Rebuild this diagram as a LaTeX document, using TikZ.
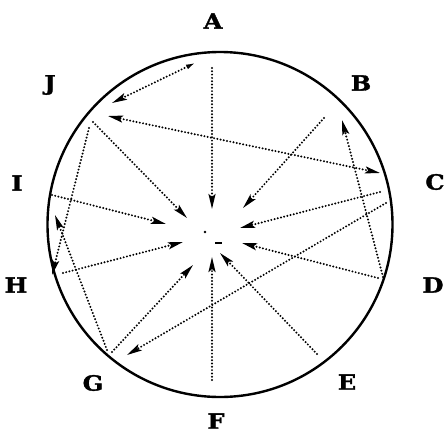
\documentclass[tikz,border=0pt]{standalone}
\usepackage{fontspec}
\setmainfont{DejaVu Serif}
\newfontfamily\lblfont[FakeStretch=1.15,FakeBold=1.5]{DejaVu Serif}
\usetikzlibrary{arrows.meta}
\tikzset{
  tipst/.tip={Stealth[length=15pt,width=7pt,inset=3pt]},
  lbl/.style={font=\lblfont\fontsize{21}{25}\selectfont\bfseries, inner sep=0pt},
  ray/.style={line width=2.2pt, dash pattern=on 0pt off 3.3pt, line cap=round, -tipst},
  dray/.style={line width=2.2pt, dash pattern=on 0pt off 3.3pt, line cap=round, tipst-tipst},
  fray/.style={line width=2.2pt, dash pattern=on 0pt off 3.3pt, line cap=round,
    {Latex[open,length=9pt,width=5pt,line width=1.4pt]}-tipst},
}
\begin{document}
\begin{tikzpicture}[x=1pt,y=-1pt]
\useasboundingbox (0,0) rectangle (445,434);
\fill[white] (0,0) rectangle (445,434);
% circle
\node[draw, circle, line width=2.4pt, minimum size=345pt, inner sep=0pt] (circ) at (220,224.5) {};
% labels
\node[lbl] (A) at (213,21) {A};
\node[lbl] (B) at (361,83) {B};
\node[lbl] (C) at (435,182) {C};
\node[lbl] (D) at (433,285) {D};
\node[lbl] (E) at (347,382) {E};
\node[lbl] (F) at (216,421) {F};
\node[lbl] (G) at (93,383) {G};
\node[lbl] (H) at (16,285) {H};
\node[lbl] (I) at (17,183) {I};
\node[lbl] (J) at (50,85) {J};
% endpoints
\coordinate (a1) at (212,68);  \coordinate (a1t) at (212,209);
\coordinate (a2) at (195,63);  \coordinate (a2t) at (112,103);
\coordinate (c3) at (380,173); \coordinate (j3) at (108,116);
\coordinate (b1) at (324,118); \coordinate (b1t) at (243,208);
\coordinate (d2) at (383,277); \coordinate (d2t) at (342,120);
\coordinate (c1) at (380,192); \coordinate (c1t) at (240,228);
\coordinate (c2) at (386,203); \coordinate (c2t) at (127,355);
\coordinate (d1) at (378,278); \coordinate (d1t) at (242,243);
\coordinate (e1) at (317,354); \coordinate (e1t) at (220,253);
\coordinate (f1) at (212,380); \coordinate (f1t) at (212,257);
\coordinate (g1) at (112,352); \coordinate (g1t) at (193,265);
\coordinate (g2) at (107,350); \coordinate (g2t) at (55,215);
\coordinate (j2) at (89,128);  \coordinate (j2t) at (52,275);
\coordinate (h1) at (63,273);  \coordinate (h1t) at (183,242);
\coordinate (i1) at (52,195);  \coordinate (i1t) at (166,224);
\coordinate (j1) at (93,122);  \coordinate (j1t) at (187,218);
% rays
\draw[ray] (a1) -- (a1t);
\draw[fray] (a2) -- (a2t);
\draw[dray] (c3) -- (j3);
\draw[ray] (b1) -- (b1t);
\draw[ray] (d2) -- (d2t);
\draw[ray] (c1) -- (c1t);
\draw[ray] (c2) -- (c2t);
\draw[ray] (d1) -- (d1t);
\draw[ray] (e1) -- (e1t);
\draw[ray] (f1) -- (f1t);
\draw[ray] (g1) -- (g1t);
\draw[ray] (g2) -- (g2t);
\draw[ray] (j2) -- (j2t);
\draw[ray] (h1) -- (h1t);
\draw[ray] (i1) -- (i1t);
\draw[ray] (j1) -- (j1t);
% centre marks
\fill (205,232) circle (1.3pt);
\coordinate (m1) at (215,243); \coordinate (m2) at (222,243);
\draw[line width=2.4pt] (m1) -- (m2);
\end{tikzpicture}
\end{document}
